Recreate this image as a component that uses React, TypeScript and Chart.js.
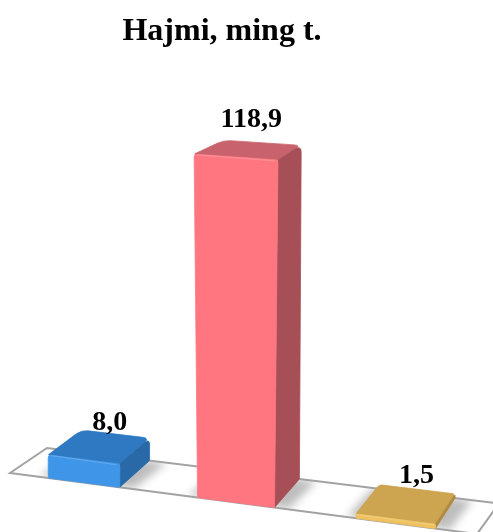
import React, { useEffect, useRef } from "react";
import { Chart, registerables } from "chart.js";

Chart.register(...registerables);

const categories = ["1", "2", "3"];
const values = [8.0, 118.9, 1.5];
const valueLabels = ["8,0", "118,9", "1,5"];
const frontColors = ["#3f96e8", "#ff7680", "#efc25f"];
const topColors = ["#2f78c2", "#c8636d", "#cda44f"];
const sideColors = ["#2a69a8", "#a64f56", "#b08a40"];
const titleText = "Hajmi, ming t.";

// Floor of the 3D scene on the page
type P = { x: number; y: number };
const FL: P = { x: 10, y: 473 };
const FR: P = { x: 477, y: 534 };
const BL: P = { x: 47, y: 448 };
const BR: P = { x: 499, y: 503.5 };
const lerp = (a: P, b: P, t: number): P => ({ x: a.x + (b.x - a.x) * t, y: a.y + (b.y - a.y) * t });
const floorPt = (u: number, v: number) => lerp(lerp(FL, FR, u), lerp(BL, BR, u), v);
const toU = (t: number) => Math.pow(t, 1.05) + 0.01 * Math.pow(1 - t, 4);
const labelDx = [10, 2, 10];
const labelDy = [-24, -30, -28];
const FULL_H = 347;

function poly(ctx: CanvasRenderingContext2D, pts: P[]) {
  ctx.beginPath();
  pts.forEach((p, i) => (i ? ctx.lineTo(p.x, p.y) : ctx.moveTo(p.x, p.y)));
  ctx.closePath();
}

// polygon whose corners are cut back along each edge and joined by a curve
function softPoly(ctx: CanvasRenderingContext2D, pts: P[], cuts: number[]) {
  const n = pts.length;
  const along = (a: P, b: P, c: number): P => {
    const d = Math.hypot(b.x - a.x, b.y - a.y) || 1;
    return lerp(a, b, Math.min(c / d, 0.45));
  };
  ctx.beginPath();
  pts.forEach((p, i) => {
    const prev = pts[(i + n - 1) % n];
    const next = pts[(i + 1) % n];
    const a = along(p, prev, cuts[i]);
    const b = along(p, next, cuts[i]);
    if (i === 0) ctx.moveTo(a.x, a.y);
    else ctx.lineTo(a.x, a.y);
    ctx.quadraticCurveTo(p.x, p.y, b.x, b.y);
  });
  ctx.closePath();
}

function face(ctx: CanvasRenderingContext2D, pts: P[], cuts: number[], color: string) {
  softPoly(ctx, pts, cuts);
  ctx.fillStyle = color;
  ctx.fill();
  ctx.strokeStyle = color;
  ctx.lineWidth = 0.8;
  ctx.lineJoin = "round";
  ctx.stroke();
}

const scene3d = {
  id: "scene3d",
  beforeDatasetDraw(chart: any) {
    const ctx: CanvasRenderingContext2D = chart.ctx;
    const area = chart.chartArea;
    const meta = chart.getDatasetMeta(0);
    const geom = meta.data.map((el: any) => {
      const half = el.width / 2;
      return {
        u0: toU((el.x - half - area.left) / area.width),
        u1: toU((el.x + half - area.left) / area.width),
        h: el.base - el.y,
      };
    });

    // floor
    ctx.save();
    poly(ctx, [FL, FR, BR, BL]);
    ctx.fillStyle = "#ffffff";
    ctx.fill();
    ctx.save();
    poly(ctx, [FL, FR, BR, BL]);
    ctx.clip();
    geom.forEach((g: any) => {
      ctx.filter = "blur(4px)";
      poly(ctx, [floorPt(g.u0 - 0.02, 0.02), floorPt(g.u1 + 0.03, 0.02), floorPt(g.u1 + 0.03, 1), floorPt(g.u0 - 0.02, 1)]);
      ctx.fillStyle = "rgba(0,0,0,0.26)";
      ctx.fill();
    });
    ctx.restore();
    poly(ctx, [FL, FR, BR, BL]);
    ctx.strokeStyle = "#a2a2a2";
    ctx.lineWidth = 2;
    ctx.lineJoin = "miter";
    ctx.stroke();
    ctx.restore();

    // bars
    geom.forEach((g: any, i: number) => {
      const uc = (g.u0 + g.u1) / 2;
      const top = (u: number, v: number): P => {
        const p = floorPt(u, v);
        const c = floorPt(uc, v);
        const r = g.h / FULL_H;
        return {
          x: p.x + (p.x - c.x) * 0.09 * (1 - 0.4 * v) * r,
          y: p.y - g.h * (1 - 0.04 * v) * (1 + 0.012 * (u > uc ? 1 : 0)),
        };
      };
      const fl = top(g.u0, 0), fr = top(g.u1, 0), br = top(g.u1 - 0.008, 1), bl = top(g.u0 - 0.006, 1);
      const flb = floorPt(g.u0, 0), frb = floorPt(g.u1, 0), brb = floorPt(g.u1 - 0.008, 1);
      const cutTop = Math.min(7, 2 + g.h / 4);
      const cutFace = Math.min(3, g.h / 4);

      ctx.save();
      ctx.filter = "blur(0.5px)";
      face(ctx, [fl, fr, br, bl], [1, 1, cutTop, cutTop], topColors[i]);
      face(ctx, [frb, brb, br, fr], [1, 1, cutTop, 0.2], sideColors[i]);
      face(ctx, [flb, frb, fr, fl], [1, 1, cutFace, cutFace], frontColors[i]);
      // bevel along the top front edge
      ctx.beginPath();
      ctx.moveTo(fl.x + cutFace, fl.y + 0.8);
      ctx.lineTo(fr.x - cutFace, fr.y + 0.8);
      ctx.strokeStyle = "rgba(255,255,255,0.18)";
      ctx.lineWidth = 1.2;
      ctx.stroke();
      ctx.restore();

      // value label
      const cx = (fl.x + fr.x + br.x + bl.x) / 4 + labelDx[i];
      const cy = (fl.y + fr.y + br.y + bl.y) / 4 + labelDy[i];
      ctx.save();
      ctx.font = 'bold 28px "Liberation Serif"';
      ctx.fillStyle = "#000000";
      ctx.textAlign = "center";
      ctx.textBaseline = "middle";
      ctx.fillText(valueLabels[i], cx, cy);
      ctx.restore();
    });
    return false;
  },
};

export default function App() {
  const ref = useRef<HTMLCanvasElement>(null);
  useEffect(() => {
    document.body.style.margin = "0";
    document.body.style.overflow = "hidden";
    const chart = new Chart(ref.current!, {
      type: "bar",
      data: {
        labels: categories,
        datasets: [
          {
            data: values,
            backgroundColor: frontColors,
            barPercentage: 0.49,
            categoryPercentage: 1,
          },
        ],
      },
      options: {
        responsive: false,
        animation: false,
        layout: { padding: { left: 0, right: 49, top: 0, bottom: 100 } },
        plugins: {
          legend: { display: false },
          tooltip: { enabled: false },
          title: {
            display: true,
            text: titleText,
            color: "#000000",
            font: { family: '"Liberation Serif"', size: 32, weight: "bold", lineHeight: 1.2 },
            padding: { top: 13, bottom: 8 },
          },
        },
        scales: {
          x: { display: false },
          y: { display: false, min: 1.0, max: 130 },
        },
      },
      plugins: [scene3d],
    } as any);
    return () => chart.destroy();
  }, []);
  return (
    <div style={{ position: "absolute", left: 0, top: 0, width: 493, height: 532 }}>
      <canvas ref={ref} width={493} height={532} style={{ display: "block" }} />
    </div>
  );
}
